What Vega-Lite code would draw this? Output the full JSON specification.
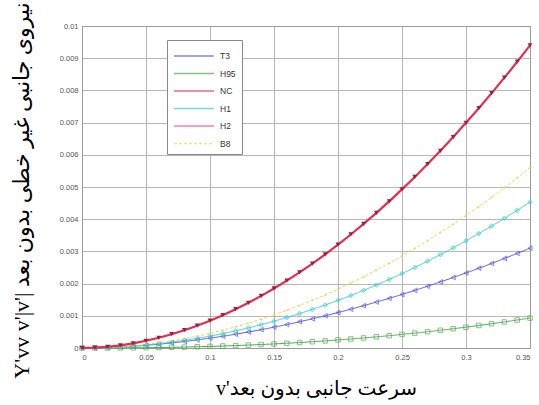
{
  "$schema": "https://vega.github.io/schema/vega-lite/v6.json",
  "width": 448,
  "height": 322,
  "autosize": {"type": "none"},
  "padding": {"left": 82, "top": 26, "right": 9, "bottom": 57},
  "background": "white",
  "config": {
    "view": {"stroke": "#777777", "strokeWidth": 1},
    "font": "Liberation Sans",
    "axis": {
      "ticks": false,
      "domain": false,
      "grid": true,
      "gridColor": "#a5a5a5",
      "gridWidth": 0.8,
      "labelFontSize": 7.5,
      "labelColor": "#555555",
      "titleFont": "Liberation Serif, DejaVu Sans",
      "titleFontWeight": "normal",
      "titleColor": "#000000"
    }
  },
  "data": {
    "values": [
      {"s":"T3","v":0,"y":0},{"s":"T3","v":0.01,"y":0.0000043},{"s":"T3","v":0.02,"y":0.0000156},{"s":"T3","v":0.03,"y":0.0000329},{"s":"T3","v":0.04,"y":0.000056},{"s":"T3","v":0.05,"y":0.0000847},{"s":"T3","v":0.06,"y":0.000119},{"s":"T3","v":0.07,"y":0.000158},{"s":"T3","v":0.08,"y":0.000202},{"s":"T3","v":0.09,"y":0.000251},{"s":"T3","v":0.1,"y":0.000305},{"s":"T3","v":0.11,"y":0.000364},{"s":"T3","v":0.12,"y":0.000428},{"s":"T3","v":0.13,"y":0.000496},{"s":"T3","v":0.14,"y":0.000569},{"s":"T3","v":0.15,"y":0.000647},{"s":"T3","v":0.16,"y":0.000729},{"s":"T3","v":0.17,"y":0.000815},{"s":"T3","v":0.18,"y":0.000906},{"s":"T3","v":0.19,"y":0.001001},{"s":"T3","v":0.2,"y":0.001101},{"s":"T3","v":0.21,"y":0.001205},{"s":"T3","v":0.22,"y":0.001313},{"s":"T3","v":0.23,"y":0.001426},{"s":"T3","v":0.24,"y":0.001542},{"s":"T3","v":0.25,"y":0.001663},{"s":"T3","v":0.26,"y":0.001789},{"s":"T3","v":0.27,"y":0.001918},{"s":"T3","v":0.28,"y":0.002052},{"s":"T3","v":0.29,"y":0.002189},{"s":"T3","v":0.3,"y":0.002331},{"s":"T3","v":0.31,"y":0.002476},{"s":"T3","v":0.32,"y":0.002626},{"s":"T3","v":0.33,"y":0.00278},{"s":"T3","v":0.34,"y":0.002938},{"s":"T3","v":0.35,"y":0.0031},
      {"s":"H95","v":0,"y":0},{"s":"H95","v":0.01,"y":0.0000002},{"s":"H95","v":0.02,"y":0.0000011},{"s":"H95","v":0.03,"y":0.0000029},{"s":"H95","v":0.04,"y":0.0000057},{"s":"H95","v":0.05,"y":0.0000096},{"s":"H95","v":0.06,"y":0.0000148},{"s":"H95","v":0.07,"y":0.0000212},{"s":"H95","v":0.08,"y":0.000029},{"s":"H95","v":0.09,"y":0.0000382},{"s":"H95","v":0.1,"y":0.000049},{"s":"H95","v":0.11,"y":0.0000613},{"s":"H95","v":0.12,"y":0.0000752},{"s":"H95","v":0.13,"y":0.0000907},{"s":"H95","v":0.14,"y":0.000108},{"s":"H95","v":0.15,"y":0.000127},{"s":"H95","v":0.16,"y":0.000148},{"s":"H95","v":0.17,"y":0.00017},{"s":"H95","v":0.18,"y":0.000195},{"s":"H95","v":0.19,"y":0.000221},{"s":"H95","v":0.2,"y":0.00025},{"s":"H95","v":0.21,"y":0.00028},{"s":"H95","v":0.22,"y":0.000312},{"s":"H95","v":0.23,"y":0.000347},{"s":"H95","v":0.24,"y":0.000383},{"s":"H95","v":0.25,"y":0.000422},{"s":"H95","v":0.26,"y":0.000462},{"s":"H95","v":0.27,"y":0.000505},{"s":"H95","v":0.28,"y":0.000551},{"s":"H95","v":0.29,"y":0.000598},{"s":"H95","v":0.3,"y":0.000647},{"s":"H95","v":0.31,"y":0.000699},{"s":"H95","v":0.32,"y":0.000753},{"s":"H95","v":0.33,"y":0.00081},{"s":"H95","v":0.34,"y":0.000869},{"s":"H95","v":0.35,"y":0.00093},
      {"s":"H1","v":0,"y":0},{"s":"H1","v":0.01,"y":0.0000037},{"s":"H1","v":0.02,"y":0.0000148},{"s":"H1","v":0.03,"y":0.0000333},{"s":"H1","v":0.04,"y":0.0000592},{"s":"H1","v":0.05,"y":0.0000925},{"s":"H1","v":0.06,"y":0.000133},{"s":"H1","v":0.07,"y":0.000181},{"s":"H1","v":0.08,"y":0.000237},{"s":"H1","v":0.09,"y":0.0003},{"s":"H1","v":0.1,"y":0.00037},{"s":"H1","v":0.11,"y":0.000447},{"s":"H1","v":0.12,"y":0.000533},{"s":"H1","v":0.13,"y":0.000625},{"s":"H1","v":0.14,"y":0.000725},{"s":"H1","v":0.15,"y":0.000832},{"s":"H1","v":0.16,"y":0.000947},{"s":"H1","v":0.17,"y":0.001069},{"s":"H1","v":0.18,"y":0.001198},{"s":"H1","v":0.19,"y":0.001335},{"s":"H1","v":0.2,"y":0.001479},{"s":"H1","v":0.21,"y":0.001631},{"s":"H1","v":0.22,"y":0.00179},{"s":"H1","v":0.23,"y":0.001956},{"s":"H1","v":0.24,"y":0.00213},{"s":"H1","v":0.25,"y":0.002311},{"s":"H1","v":0.26,"y":0.0025},{"s":"H1","v":0.27,"y":0.002696},{"s":"H1","v":0.28,"y":0.002899},{"s":"H1","v":0.29,"y":0.00311},{"s":"H1","v":0.3,"y":0.003328},{"s":"H1","v":0.31,"y":0.003554},{"s":"H1","v":0.32,"y":0.003787},{"s":"H1","v":0.33,"y":0.004027},{"s":"H1","v":0.34,"y":0.004275},{"s":"H1","v":0.35,"y":0.00453},
      {"s":"B8","v":0,"y":0},{"s":"B8","v":0.01,"y":0.0000046},{"s":"B8","v":0.02,"y":0.0000183},{"s":"B8","v":0.03,"y":0.0000411},{"s":"B8","v":0.04,"y":0.0000731},{"s":"B8","v":0.05,"y":0.000114},{"s":"B8","v":0.06,"y":0.000165},{"s":"B8","v":0.07,"y":0.000224},{"s":"B8","v":0.08,"y":0.000292},{"s":"B8","v":0.09,"y":0.00037},{"s":"B8","v":0.1,"y":0.000457},{"s":"B8","v":0.11,"y":0.000553},{"s":"B8","v":0.12,"y":0.000658},{"s":"B8","v":0.13,"y":0.000772},{"s":"B8","v":0.14,"y":0.000896},{"s":"B8","v":0.15,"y":0.001028},{"s":"B8","v":0.16,"y":0.00117},{"s":"B8","v":0.17,"y":0.001321},{"s":"B8","v":0.18,"y":0.001481},{"s":"B8","v":0.19,"y":0.00165},{"s":"B8","v":0.2,"y":0.001828},{"s":"B8","v":0.21,"y":0.002015},{"s":"B8","v":0.22,"y":0.002212},{"s":"B8","v":0.23,"y":0.002418},{"s":"B8","v":0.24,"y":0.002632},{"s":"B8","v":0.25,"y":0.002856},{"s":"B8","v":0.26,"y":0.003089},{"s":"B8","v":0.27,"y":0.003332},{"s":"B8","v":0.28,"y":0.003583},{"s":"B8","v":0.29,"y":0.003843},{"s":"B8","v":0.3,"y":0.004113},{"s":"B8","v":0.31,"y":0.004392},{"s":"B8","v":0.32,"y":0.00468},{"s":"B8","v":0.33,"y":0.004977},{"s":"B8","v":0.34,"y":0.005283},{"s":"B8","v":0.35,"y":0.0056},
      {"s":"H2","v":0,"y":0},{"s":"H2","v":0.01,"y":0.0000102},{"s":"H2","v":0.02,"y":0.0000387},{"s":"H2","v":0.03,"y":0.000084},{"s":"H2","v":0.04,"y":0.000146},{"s":"H2","v":0.05,"y":0.000224},{"s":"H2","v":0.06,"y":0.000318},{"s":"H2","v":0.07,"y":0.000428},{"s":"H2","v":0.08,"y":0.000553},{"s":"H2","v":0.09,"y":0.000693},{"s":"H2","v":0.1,"y":0.000848},{"s":"H2","v":0.11,"y":0.001019},{"s":"H2","v":0.12,"y":0.001204},{"s":"H2","v":0.13,"y":0.001404},{"s":"H2","v":0.14,"y":0.001619},{"s":"H2","v":0.15,"y":0.001848},{"s":"H2","v":0.16,"y":0.002091},{"s":"H2","v":0.17,"y":0.00235},{"s":"H2","v":0.18,"y":0.002622},{"s":"H2","v":0.19,"y":0.002909},{"s":"H2","v":0.2,"y":0.00321},{"s":"H2","v":0.21,"y":0.003525},{"s":"H2","v":0.22,"y":0.003854},{"s":"H2","v":0.23,"y":0.004198},{"s":"H2","v":0.24,"y":0.004555},{"s":"H2","v":0.25,"y":0.004926},{"s":"H2","v":0.26,"y":0.005312},{"s":"H2","v":0.27,"y":0.005712},{"s":"H2","v":0.28,"y":0.006125},{"s":"H2","v":0.29,"y":0.006551},{"s":"H2","v":0.3,"y":0.006992},{"s":"H2","v":0.31,"y":0.007446},{"s":"H2","v":0.32,"y":0.007915},{"s":"H2","v":0.33,"y":0.008396},{"s":"H2","v":0.34,"y":0.008891},{"s":"H2","v":0.35,"y":0.0094},
      {"s":"NC","v":0,"y":0},{"s":"NC","v":0.01,"y":0.0000102},{"s":"NC","v":0.02,"y":0.0000387},{"s":"NC","v":0.03,"y":0.000084},{"s":"NC","v":0.04,"y":0.000146},{"s":"NC","v":0.05,"y":0.000224},{"s":"NC","v":0.06,"y":0.000318},{"s":"NC","v":0.07,"y":0.000428},{"s":"NC","v":0.08,"y":0.000553},{"s":"NC","v":0.09,"y":0.000693},{"s":"NC","v":0.1,"y":0.000848},{"s":"NC","v":0.11,"y":0.001019},{"s":"NC","v":0.12,"y":0.001204},{"s":"NC","v":0.13,"y":0.001404},{"s":"NC","v":0.14,"y":0.001619},{"s":"NC","v":0.15,"y":0.001848},{"s":"NC","v":0.16,"y":0.002091},{"s":"NC","v":0.17,"y":0.00235},{"s":"NC","v":0.18,"y":0.002622},{"s":"NC","v":0.19,"y":0.002909},{"s":"NC","v":0.2,"y":0.00321},{"s":"NC","v":0.21,"y":0.003525},{"s":"NC","v":0.22,"y":0.003854},{"s":"NC","v":0.23,"y":0.004198},{"s":"NC","v":0.24,"y":0.004555},{"s":"NC","v":0.25,"y":0.004926},{"s":"NC","v":0.26,"y":0.005312},{"s":"NC","v":0.27,"y":0.005712},{"s":"NC","v":0.28,"y":0.006125},{"s":"NC","v":0.29,"y":0.006551},{"s":"NC","v":0.3,"y":0.006992},{"s":"NC","v":0.31,"y":0.007446},{"s":"NC","v":0.32,"y":0.007915},{"s":"NC","v":0.33,"y":0.008396},{"s":"NC","v":0.34,"y":0.008891},{"s":"NC","v":0.35,"y":0.0094}
    ]
  },
  "encoding": {
    "x": {
      "field": "v",
      "type": "quantitative",
      "scale": {"domain": [0, 0.35], "nice": false, "zero": false},
      "axis": {
        "values": [0, 0.05, 0.1, 0.15, 0.2, 0.25, 0.3, 0.35],
        "format": "~g",
        "labelPadding": 5,
        "title": "v'سرعت جانبی بدون بعد",
        "titleFontSize": 20,
        "titleBaseline": "middle",
        "titleX": 234,
        "titleY": 40
      }
    },
    "y": {
      "field": "y",
      "type": "quantitative",
      "scale": {"domain": [0, 0.01], "nice": false},
      "axis": {
        "values": [0, 0.001, 0.002, 0.003, 0.004, 0.005, 0.006, 0.007, 0.008, 0.009, 0.01],
        "format": "~g",
        "labelPadding": 4,
        "title": "Y'vv v'|v'| نیروی جانبی غیر خطی بدون بعد",
        "titleFontSize": 22,
        "titleAlign": "center",
        "titleBaseline": "middle",
        "titleX": -61,
        "titleY": 164
      }
    },
    "color": {
      "field": "s",
      "type": "nominal",
      "scale": {
        "domain": ["T3", "H95", "NC", "H1", "H2", "B8"],
        "range": ["#5252e6", "#4fa84f", "#e0304a", "#3cd0d0", "#f04aa8", "#e2dc5a"]
      },
      "legend": {
        "orient": "none",
        "legendX": 85,
        "legendY": 14,
        "title": null,
        "symbolType": "M-1,0H3.44",
        "symbolSize": 324,
        "symbolStrokeWidth": 1.3,
        "labelFontSize": 8.5,
        "labelColor": "#333333",
        "labelOffset": 27,
        "rowPadding": 2.5,
        "fillColor": "white",
        "strokeColor": "#888888",
        "padding": 6
      }
    }
  },
  "layer": [
    {
      "transform": [{"filter": "datum.s !== 'NC' && datum.s !== 'H2'"}],
      "mark": {"type": "line", "strokeWidth": 1},
      "encoding": {
        "strokeDash": {
          "field": "s",
          "type": "nominal",
          "scale": {"domain": ["T3", "H95", "NC", "H1", "H2", "B8"], "range": [[1, 0], [1, 0], [1, 0], [1, 0], [1, 0], [3, 2]]},
          "legend": null
        }
      }
    },
    {
      "transform": [{"filter": "datum.s === 'T3'"}],
      "mark": {"type": "point", "shape": "triangle-left", "filled": false, "size": 22, "strokeWidth": 1},
      "encoding": {}
    },
    {
      "transform": [{"filter": "datum.s === 'H95'"}],
      "mark": {"type": "point", "shape": "square", "filled": false, "size": 20, "strokeWidth": 1},
      "encoding": {}
    },
    {
      "transform": [{"filter": "datum.s === 'H1'"}],
      "mark": {"type": "point", "shape": "cross", "filled": false, "size": 14, "strokeWidth": 1},
      "encoding": {}
    },
    {
      "transform": [{"filter": "datum.s === 'B8'"}],
      "mark": {"type": "point", "shape": "circle", "filled": false, "size": 3, "strokeWidth": 1},
      "encoding": {}
    },
    {
      "transform": [{"filter": "datum.s === 'NC' || datum.s === 'H2'"}],
      "mark": {"type": "line"},
      "encoding": {
        "strokeWidth": {
          "field": "s",
          "type": "nominal",
          "scale": {"domain": ["NC", "H2"], "range": [2.2, 1]},
          "legend": null
        }
      }
    },
    {
      "transform": [{"filter": "datum.s === 'NC'"}],
      "mark": {"type": "point", "shape": "triangle-down", "filled": true, "size": 24, "opacity": 1},
      "encoding": {"color": {"value": "#9a1f45"}}
    }
  ]
}
